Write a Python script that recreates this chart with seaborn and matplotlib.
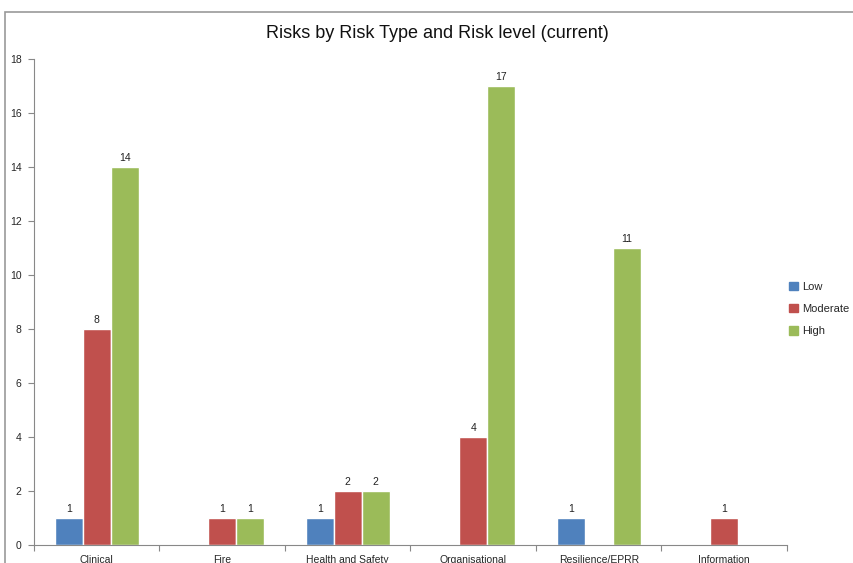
import matplotlib
matplotlib.use("Agg")
import matplotlib.pyplot as plt
import matplotlib.patches as mpatches
import seaborn as sns
import pandas as pd
import numpy as np

categories = ["Clinical", "Fire", "Health and Safety", "Organisational", "Resilience/EPRR", "Information"]
levels = ["Low", "Moderate", "High"]
low = [1, 0, 1, 0, 1, 0]
moderate = [8, 1, 2, 4, 0, 1]
high = [14, 1, 2, 17, 11, 0]
colors = ["#4F81BD", "#C0504D", "#9BBB59"]

rows = []
for lvl, vals in zip(levels, [low, moderate, high]):
    for c, v in zip(categories, vals):
        rows.append({"Category": c, "Level": lvl, "Count": v})
df = pd.DataFrame(rows)

sns.set_style("white")
plt.rcParams['font.family'] = ['Liberation Sans', 'DejaVu Sans']

fig = plt.figure(figsize=(8.54, 5.63), dpi=100)
ax = fig.add_axes([34/854, 1-545/563, (787-34)/854, (545-59)/563])

sns.barplot(data=df, x="Category", y="Count", hue="Level", order=categories,
            hue_order=levels, palette=colors, width=0.67, ax=ax,
            saturation=1, legend=False, errorbar=None)

for cont in ax.containers:
    labs = [f"{int(b.get_height())}" if b.get_height() > 0 else "" for b in cont]
    ax.bar_label(cont, labels=labs, padding=3, fontsize=7.5, color="#222222")

ax.set_ylim(0, 18)
ax.set_yticks(range(0, 19, 2))
ax.set_xlim(-0.5, 5.5)
ax.set_xlabel("")
ax.set_ylabel("")
ax.tick_params(axis="y", left=True, labelsize=7.5, length=4, color="#888888", width=0.8, pad=5)
ax.set_xticks(range(6))
ax.tick_params(axis="x", which="major", bottom=False, length=0, labelsize=7.5, pad=7)
ax.set_xticks(np.arange(-0.5, 6, 1), minor=True)
ax.tick_params(axis="x", which="minor", bottom=True, length=4, color="#888888", width=0.8)
for s in ["top", "right"]:
    ax.spines[s].set_visible(False)
for s in ["left", "bottom"]:
    ax.spines[s].set_color("#888888")
    ax.spines[s].set_linewidth(0.8)

fig.text(437/854, 1-33/563, "Risks by Risk Type and Risk level (current)",
         ha="center", va="center", fontsize=13, color="#111111")

handles = [mpatches.Patch(color=c, label=l) for c, l in zip(colors, levels)]
fig.legend(handles=handles, loc="center left", bbox_to_anchor=(789/854, 1-309/563),
           frameon=False, fontsize=8, handlelength=0.8, handleheight=0.8,
           labelspacing=1.1, handletextpad=0.4, borderaxespad=0, borderpad=0)

border = mpatches.Rectangle((5/854, -0.1), 1.2, 1-12/563+0.1, transform=fig.transFigure,
                            fill=False, edgecolor="#999999", linewidth=1.2, clip_on=False)
fig.add_artist(border)

fig.savefig("out.png", dpi=100)
